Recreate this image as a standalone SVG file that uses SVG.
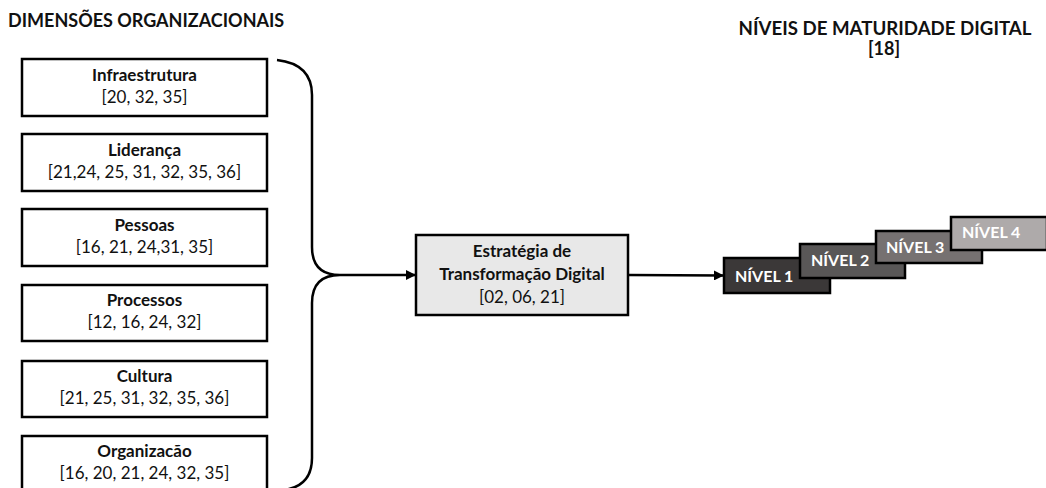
<svg xmlns="http://www.w3.org/2000/svg" width="1046" height="488" viewBox="0 0 1046 488">
<defs>
<marker id="arr" viewBox="0 0 10 10" refX="10" refY="5" markerWidth="4" markerHeight="4" orient="auto" markerUnits="strokeWidth">
<path d="M0,0 L10,5 L0,10 z" fill="#000"/>
</marker>
<style>
text{font-family:Lato,"Noto Sans","Liberation Sans",sans-serif;fill:#111;}
.title{font-size:18px;font-weight:bold;}
.nb{font-size:17px;font-weight:bold;text-anchor:middle;}
.nr{font-size:17px;text-anchor:middle;}
.box{fill:#fff;stroke:#000;stroke-width:2.5;}
.cbox{fill:#e8e8e8;stroke:#000;stroke-width:2.5;}
.lv{stroke:#000;stroke-width:2.5;}
.lt{font-size:16px;font-weight:bold;fill:#fff;}
.con{fill:none;stroke:#000;stroke-width:2.5;}
</style>
</defs>
<rect width="1046" height="488" fill="#fff"/>
<text class="title" x="8" y="27">DIMENSÕES ORGANIZACIONAIS</text>
<text class="title" x="885" y="35" text-anchor="middle" textLength="293" lengthAdjust="spacingAndGlyphs">NÍVEIS DE MATURIDADE DIGITAL</text>
<text class="title" x="884" y="55" text-anchor="middle">[18]</text>

<g id="infraestrutura"><rect class="box" x="22" y="59" width="245" height="57"/><text class="nb" x="144.5" y="81">Infraestrutura</text><text class="nr" x="144.5" y="103">[20, 32, 35]</text></g>
<g id="lideranca"><rect class="box" x="22" y="134" width="245" height="57"/><text class="nb" x="144.5" y="156">Liderança</text><text class="nr" x="144.5" y="178">[21,24, 25, 31, 32, 35, 36]</text></g>
<g id="pessoas"><rect class="box" x="22" y="209" width="245" height="57"/><text class="nb" x="144.5" y="231">Pessoas</text><text class="nr" x="144.5" y="253">[16, 21, 24,31, 35]</text></g>
<g id="processos"><rect class="box" x="22" y="285" width="245" height="56"/><text class="nb" x="144.5" y="306">Processos</text><text class="nr" x="144.5" y="328">[12, 16, 24, 32]</text></g>
<g id="cultura"><rect class="box" x="22" y="361" width="245" height="56"/><text class="nb" x="144.5" y="382">Cultura</text><text class="nr" x="144.5" y="404">[21, 25, 31, 32, 35, 36]</text></g>
<g id="organizacao"><rect class="box" x="22" y="436" width="245" height="57"/><text class="nb" x="144.5" y="457">Organizacão</text><text class="nr" x="144.5" y="479">[16, 20, 21, 24, 32, 35]</text></g>

<g id="estrategia"><rect class="cbox" x="416" y="235" width="212" height="80"/><text class="nb" x="522" y="257">Estratégia de</text><text class="nb" x="522" y="280">Transformação Digital</text><text class="nr" x="522" y="303">[02, 06, 21]</text></g>

<g id="nivel1"><rect class="lv" x="724" y="258" width="106" height="35" fill="#3b3838"/><text class="lt" x="735" y="282">NÍVEL 1</text></g>
<g id="nivel2"><rect class="lv" x="800" y="244" width="105" height="34" fill="#595757"/><text class="lt" x="811" y="266">NÍVEL 2</text></g>
<g id="nivel3"><rect class="lv" x="876" y="231" width="106" height="32" fill="#767171"/><text class="lt" x="886" y="253">NÍVEL 3</text></g>
<g id="nivel4"><rect class="lv" x="951" y="217" width="96" height="33" fill="#aeaaaa"/><text class="lt" x="962" y="238">NÍVEL 4</text></g>

<g id="connectors">
<path class="con" d="M277,60 Q312,64 312,95 L312,247 Q312,275 340,275 Q312,275 312,303 L312,458 Q312,486 284,490"/>
<line class="con" x1="340" y1="275" x2="416" y2="275" marker-end="url(#arr)"/>
<line class="con" x1="628" y1="275" x2="724" y2="275.5" marker-end="url(#arr)"/>
</g>
</svg>
